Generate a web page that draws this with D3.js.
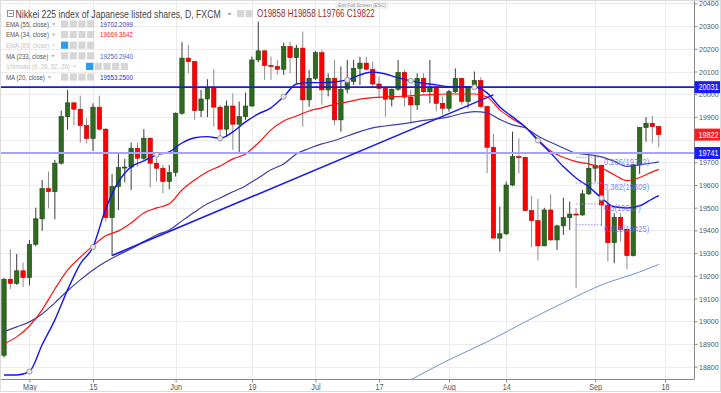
<!DOCTYPE html>
<html lang="en">
<head>
<meta charset="utf-8">
<title>Nikkei 225 index of Japanese listed shares, D, FXCM</title>
<script src="https://cdn.jsdelivr.net/npm/d3@7"></script>
<style>
  body { margin: 0; background: #fff; }
  svg { display: block; font-family: "Liberation Sans", Arial, sans-serif; }
</style>
</head>
<body>
<script>

// Size of the page and of the price pane
var w = 721;
var h = 393;
var plotW = 694;
var plotH = 379.5;

// Time axis: bar index of each labelled day (trading days from 25 Apr 2017)
var tickIdx = [4, 14, 27, 39, 49, 59, 70, 79, 93, 104];
var tickLabels = ["May", "15", "Jun", "19", "Jul", "17", "Aug", "14", "Sep", "18"];

// Price axis ticks (19800 sits under the close tag)
var priceTicks = [18800, 18900, 19000, 19100, 19200, 19300, 19400, 19500, 19600,
                  19700, 19800, 19900, 20000, 20100, 20200, 20300, 20400];
var hiddenTicks = [19800];

// Daily candles (one value per bar)
var openP = [18850, 19185, 19167, 19222, 19192, 19339, 19451, 19584, 19571, 19696,
             19901, 19962, 19934, 19862, 19805, 19943, 19846, 19456, 19593, 19677,
             19679, 19762, 19718, 19806, 19696, 19674, 19615, 19656, 19916, 20159,
             20144, 19928, 19979, 20028, 19943, 19846, 19948, 19868, 19901, 19948,
             20151, 20191, 20126, 20122, 20110, 20210, 20161, 20203, 19975, 20070,
             20183, 20019, 20070, 19887, 20022, 20056, 20114, 20137, 20110, 20045,
             20026, 19978, 20022, 20096, 19987, 19953, 20070, 20011, 20033, 19960,
             19938, 20011, 20070, 19968, 20033, 20060, 19946, 19766, 19366, 19385,
             19600, 19725, 19722, 19487, 19443, 19332, 19490, 19358, 19420, 19456,
             19472, 19468, 19561, 19674, 19687, 19512, 19346, 19458, 19405, 19289,
             19689, 19853, 19872, 19858];
var highP = [19190, 19318, 19296, 19258, 19358, 19500, 19622, 19659, 19711, 19928,
             20019, 19965, 19993, 19894, 19960, 19993, 19850, 19648, 19737, 19715,
             19787, 19787, 19846, 19810, 19718, 19689, 19689, 19920, 20229, 20217,
             20148, 20019, 20066, 20110, 19953, 19972, 20004, 19968, 20007, 20166,
             20320, 20195, 20166, 20151, 20227, 20232, 20217, 20276, 20107, 20190,
             20195, 20092, 20151, 20122, 20151, 20151, 20165, 20165, 20144, 20078,
             20030, 20025, 20151, 20107, 20019, 20092, 20092, 20151, 20036, 19990,
             20019, 20114, 20072, 20036, 20100, 20075, 19950, 19825, 19505, 19615,
             19835, 19806, 19725, 19553, 19538, 19500, 19559, 19425, 19544, 19527,
             19498, 19578, 19733, 19733, 19690, 19578, 19476, 19476, 19408, 19692,
             19856, 19899, 19904, 19858];
var lowP = [18840, 19142, 19160, 19150, 19157, 19330, 19398, 19497, 19449, 19690,
            19843, 19862, 19787, 19784, 19750, 19840, 19439, 19289, 19490, 19612,
            19578, 19681, 19711, 19590, 19615, 19564, 19581, 19637, 19910, 20092,
            19887, 19899, 19899, 19857, 19791, 19813, 19755, 19743, 19887, 19945,
            20140, 20063, 20063, 20085, 20085, 20092, 20048, 19857, 19945, 20063,
            19953, 19990, 19864, 19835, 20004, 20041, 20041, 20107, 20026, 19982,
            19901, 19946, 20015, 19946, 19872, 19931, 20004, 19960, 19924, 19909,
            19924, 20004, 19953, 19938, 20026, 19938, 19652, 19366, 19307, 19380,
            19595, 19650, 19487, 19326, 19267, 19330, 19355, 19314, 19380, 19402,
            19145, 19465, 19556, 19615, 19420, 19263, 19255, 19351, 19229, 19285,
            19649, 19791, 19784, 19766];
var closeP = [19185, 19167, 19222, 19192, 19339, 19451, 19584, 19571, 19696, 19901,
              19962, 19934, 19862, 19805, 19943, 19846, 19456, 19593, 19677, 19679,
              19762, 19718, 19806, 19696, 19674, 19615, 19656, 19916, 20159, 20144,
              19928, 19979, 20028, 19943, 19846, 19948, 19868, 19901, 19948, 20151,
              20191, 20126, 20122, 20110, 20210, 20161, 20203, 19975, 20070, 20183,
              20019, 20070, 19887, 20022, 20056, 20114, 20137, 20110, 20045, 20026,
              19978, 20022, 20096, 19987, 19953, 20070, 20011, 20033, 19960, 19938,
              20011, 20070, 19968, 20033, 20060, 19946, 19766, 19366, 19385, 19600,
              19725, 19722, 19487, 19443, 19332, 19490, 19358, 19420, 19456, 19472,
              19468, 19561, 19674, 19687, 19512, 19346, 19458, 19405, 19289, 19689,
              19853, 19872, 19857, 19822];

// Indicator lines, every second bar
var maIdx = [0, 2, 4, 6, 8, 10, 12, 14, 16, 18, 20, 22, 24, 26, 28, 30, 32, 34, 36, 38,
             40, 42, 44, 46, 48, 50, 52, 54, 56, 58, 60, 62, 64, 66, 68, 70, 72, 74, 76, 78,
             80, 82, 84, 86, 88, 90, 92, 94, 96, 98, 100, 102, 103];
var ma20 = [18763, 18763, 18778, 18896, 19006, 19138, 19253, 19327, 19495, 19614,
            19680, 19706, 19733, 19746, 19785, 19808, 19813, 19806, 19834, 19878,
            19913, 19940, 19989, 20045, 20051, 20051, 20054, 20063, 20085, 20098,
            20089, 20072, 20059, 20048, 20041, 20033, 20032, 20031, 20006, 19944,
            19900, 19856, 19796, 19741, 19681, 19631, 19592, 19543, 19504, 19499,
            19508, 19539, 19553];
var ema34 = [18900, 18931, 18979, 19050, 19142, 19225, 19282, 19332, 19376, 19398,
             19433, 19477, 19499, 19517, 19578, 19622, 19658, 19684, 19715, 19737,
             19785, 19843, 19882, 19904, 19926, 19940, 19955, 19966, 19978, 19985,
             19988, 19990, 19993, 19997, 19999, 20001, 20001, 20001, 19988, 19931,
             19891, 19856, 19801, 19750, 19722, 19703, 19693, 19675, 19645, 19619,
             19633, 19658, 19669];
var ema55 = [18954, 18975, 18997, 19032, 19081, 19134, 19182, 19226, 19262, 19292,
             19319, 19351, 19380, 19402, 19442, 19481, 19517, 19543, 19570, 19596,
             19631, 19667, 19693, 19737, 19761, 19781, 19796, 19816, 19835, 19852,
             19860, 19867, 19875, 19885, 19891, 19900, 19915, 19923, 19918, 19889,
             19865, 19852, 19816, 19788, 19763, 19740, 19734, 19724, 19704, 19682,
             19689, 19697, 19702];
var ma233Idx = [62, 64, 70, 76, 82, 88, 94, 100, 103];
var ma233 = [18712, 18742, 18830, 18909, 18997, 19081, 19160, 19217, 19250];

// Circle markers along MA 20
var markerIdx = [4, 14, 24, 34, 44, 54, 64, 74, 84, 94];

// Drawn objects: trend line, horizontal levels, fibonacci retracement
var trendIdx = [17, 77];
var trendVal = [19289, 19997];
var levelVals = [20031, 19741];
var fibNames = ["0.236", "0.382", "0.5", "0.618"];
var fibVals = [19722, 19609, 19517, 19425];
var fibIdx = [90, 94];

// Legend
var legendNames = ["EMA (55, close)", "EMA (34, close)", "EMA (89, close)", "MA (233, close)",
                   "Ichimoku (9, 26, 52, 26)", "MA (20, close)"];
var legendValues = ["19702.2099", "19669.3642", "", "19250.2940", "", "19553.2500"];
var legendColors = ["#3a3aa6", "#ff1a1a", "#c8c8c8", "#4b5fb0", "#c8c8c8", "#2626ee"];
var legendHidden = [false, false, true, false, true, false];

//Create scale functions
var xScale = d3.scaleLinear().domain([-0.63, 108.55]).range([0, plotW]);
var yScale = d3.scaleLinear().domain([18741, 20415]).range([380, 0]);

//squeeze text horizontally, the screenshot is narrower than normal type
function squeeze(sel, k) {
  sel.each(function() {
    var len = this.getComputedTextLength();
    d3.select(this).attr("textLength", len * k).attr("lengthAdjust", "spacingAndGlyphs");
  });
}

//text squeezed with a transform, placed at (x, y)
function narrowText(parent, x, y, k, str) {
  return parent.append("g").attr("transform", "translate(" + x + "," + y + ") scale(" + k + ",1)")
    .append("text").attr("x", 0).attr("y", 0).text(str);
}

//Create SVG element
var svg = d3.select("body").append("svg")
  .attr("width", w)
  .attr("height", h);

svg.append("rect").attr("width", w).attr("height", h).attr("fill", "#fff");

svg.append("clipPath").attr("id", "plotclip")
  .append("rect").attr("x", 0).attr("y", 0).attr("width", plotW).attr("height", plotH);

//Grid
var grid = svg.append("g");
grid.selectAll("line.hg").data(priceTicks).enter().append("line")
  .attr("x1", 0).attr("x2", plotW)
  .attr("y1", function(d) { return Math.round(yScale(d)) + 0.5; })
  .attr("y2", function(d) { return Math.round(yScale(d)) + 0.5; })
  .attr("stroke", "#ececec");
grid.selectAll("line.vg").data(tickIdx).enter().append("line")
  .attr("x1", function(d) { return Math.round(xScale(d)) + 0.5; })
  .attr("x2", function(d) { return Math.round(xScale(d)) + 0.5; })
  .attr("y1", 0).attr("y2", plotH)
  .attr("stroke", "#ececec");

var plot = svg.append("g").attr("clip-path", "url(#plotclip)");

//Candles
var bars = d3.range(openP.length);
var bw = 4.4;
function up(i) { return closeP[i] >= openP[i]; }

plot.selectAll("line.wick").data(bars).enter().append("line")
  .attr("x1", function(i) { return xScale(i); })
  .attr("x2", function(i) { return xScale(i); })
  .attr("y1", function(i) { return yScale(highP[i]); })
  .attr("y2", function(i) { return yScale(lowP[i]); })
  .attr("stroke", function(i) { return up(i) ? "#3a3a3a" : "#8c8c8c"; })
  .attr("stroke-width", 1);

plot.selectAll("rect.body").data(bars).enter().append("rect")
  .attr("x", function(i) { return xScale(i) - bw / 2; })
  .attr("y", function(i) { return yScale(Math.max(openP[i], closeP[i])); })
  .attr("width", bw)
  .attr("height", function(i) { return Math.max(1, Math.abs(yScale(openP[i]) - yScale(closeP[i]))); })
  .attr("fill", function(i) { return up(i) ? "#2f6b1e" : "#ff0000"; })
  .attr("stroke", function(i) { return up(i) ? "#1d4512" : "#b80000"; })
  .attr("stroke-width", 0.6);

//Indicator lines
var line = d3.line()
  .x(function(d) { return xScale(d[0]); })
  .y(function(d) { return yScale(d[1]); })
  .curve(d3.curveMonotoneX);

function pairs(idx, vals) { return idx.map(function(d, k) { return [d, vals[k]]; }); }

plot.append("path").datum(pairs(ma233Idx, ma233))
  .attr("d", line).attr("fill", "none").attr("stroke", "#6f8fd6").attr("stroke-width", 1);
plot.append("path").datum(pairs(maIdx, ema55))
  .attr("d", line).attr("fill", "none").attr("stroke", "#3f3f9f").attr("stroke-width", 1.2);
plot.append("path").datum(pairs(maIdx, ema34))
  .attr("d", line).attr("fill", "none").attr("stroke", "#ff1010").attr("stroke-width", 1.2);
plot.append("path").datum(pairs(maIdx, ma20))
  .attr("d", line).attr("fill", "none").attr("stroke", "#1414f0").attr("stroke-width", 1.4);

//Horizontal levels
plot.append("line")
  .attr("x1", 0).attr("x2", plotW)
  .attr("y1", yScale(levelVals[0])).attr("y2", yScale(levelVals[0]))
  .attr("stroke", "#1a1ad8").attr("stroke-width", 1.6);
plot.append("line")
  .attr("x1", 0).attr("x2", plotW)
  .attr("y1", yScale(levelVals[1])).attr("y2", yScale(levelVals[1]))
  .attr("stroke", "#a4a4ff").attr("stroke-width", 2);

//Trend line
plot.append("path").datum(pairs(trendIdx, trendVal))
  .attr("d", d3.line().x(function(d) { return xScale(d[0]); }).y(function(d) { return yScale(d[1]); }))
  .attr("stroke", "#1e1ee6").attr("stroke-width", 1.6).attr("fill", "none");

//Markers on MA 20
plot.selectAll("circle.mk").data(markerIdx).enter().append("circle")
  .attr("cx", function(d) { return xScale(d); })
  .attr("cy", function(d) { return yScale(ma20[maIdx.indexOf(d)]); })
  .attr("r", 2.6)
  .attr("fill", "#e6e6e6").attr("stroke", "#8a8a8a").attr("stroke-width", 0.8);

//Fibonacci levels
var fib = plot.append("g");
fib.selectAll("line").data(fibVals).enter().append("line")
  .attr("x1", xScale(fibIdx[0])).attr("x2", xScale(fibIdx[1]))
  .attr("y1", function(d) { return yScale(d); }).attr("y2", function(d) { return yScale(d); })
  .attr("stroke", "#8c8cff").attr("stroke-dasharray", "1.5,1.5").attr("stroke-width", 1);
fib.selectAll("text").data(fibVals).enter().append("text")
  .attr("x", xScale(fibIdx[1]) + 2.5)
  .attr("y", function(d) { return yScale(d) + 7.5; })
  .attr("font-size", "9.5px").attr("fill", "#6a6aff").attr("fill-opacity", 0.85)
  .text(function(d, k) { return fibNames[k] + "(" + d + ")"; })
  .call(squeeze, 0.8);

//Right price axis
var yAxis = d3.axisRight(yScale).tickValues(priceTicks).tickSize(3).tickSizeOuter(0).tickPadding(1.5)
  .tickFormat(function(d) { return hiddenTicks.indexOf(d) < 0 ? d : ""; });
var gy = svg.append("g").attr("transform", "translate(" + (plotW + 0.5) + ",0)").call(yAxis);
gy.select(".domain").attr("stroke", "#8a8a8a").attr("d", "M0,0V" + plotH);
gy.selectAll(".tick line").attr("stroke", "#8a8a8a");
gy.selectAll("text").attr("fill", "#555").attr("font-size", "8px")
  .attr("font-family", "Liberation Sans, Arial, sans-serif").call(squeeze, 0.88);

//Bottom time axis
var xAxis = d3.axisBottom(xScale).tickValues(tickIdx).tickSize(3).tickSizeOuter(0).tickPadding(1.5)
  .tickFormat(function(d, k) { return tickLabels[k]; });
var gx = svg.append("g").attr("transform", "translate(0," + plotH + ")").call(xAxis);
gx.select(".domain").attr("stroke", "#8a8a8a").attr("d", "M0,0H" + (plotW + 0.5));
gx.selectAll(".tick line").attr("stroke", "#8a8a8a");
gx.selectAll("text").attr("fill", "#555").attr("font-size", "8.5px")
  .attr("font-family", "Liberation Sans, Arial, sans-serif").call(squeeze, 0.85);

//Price labels on the axis
var tags = [[levelVals[0], "#1c1cf5"], [closeP[closeP.length - 1], "#ff1c1c"], [levelVals[1], "#1c1cf5"]];
var tag = svg.selectAll("g.tag").data(tags).enter().append("g")
  .attr("transform", function(d) { return "translate(" + plotW + "," + yScale(d[0]) + ")"; });
tag.append("rect").attr("x", 0.5).attr("y", -6).attr("width", w - plotW).attr("height", 12)
  .attr("fill", function(d) { return d[1]; });
tag.append("text").attr("x", 4.5).attr("y", 3.2).attr("fill", "#fff").attr("font-size", "8.5px")
  .text(function(d) { return d[0]; }).call(squeeze, 0.85);

//Title line
var title = svg.append("g");
title.append("rect").attr("x", 7.5).attr("y", 10.5).attr("width", 6).attr("height", 6)
  .attr("fill", "#fff").attr("stroke", "#777").attr("stroke-width", 0.8);
title.append("line").attr("x1", 9).attr("x2", 12.5).attr("y1", 13.5).attr("y2", 13.5)
  .attr("stroke", "#777").attr("stroke-width", 0.8);
narrowText(title, 15.5, 17.5, 0.79, "Nikkei 225 index of Japanese listed shares, D, FXCM")
  .attr("font-size", "11px").attr("fill", "#444");
title.append("path").attr("d", "M227.5,13 L231.5,13 L229.5,15.5 Z").attr("fill", "#999");
[237, 245.5].forEach(function(x) {
  title.append("rect").attr("x", x).attr("y", 10).attr("width", 7.2).attr("height", 7.2).attr("fill", "#d6d6d6");
});
var last = closeP.length - 1;
narrowText(title, 257, 17.3, 0.8, "O" + openP[last] + "  H" + highP[last] + "  L" + lowP[last] + "  C" + closeP[last])
  .attr("font-size", "10px").attr("fill", "#9a2a2a");

//Legend rows
var rowY = [24, 34.6, 45.2, 55.8, 66.4, 77];
var legend = svg.append("g");
legendNames.forEach(function(name, k) {
  var y = rowY[k];
  var col = legendHidden[k] ? "#c6c6c6" : "#555";
  var t = legend.append("text").attr("x", 6).attr("y", y + 2.8).attr("font-size", "7.8px").attr("fill", col)
    .text(name).call(squeeze, 0.78);
  var end = 6 + parseFloat(t.attr("textLength"));
  legend.append("path").attr("d", "M" + (end + 3) + "," + (y - 0.8) + " l3.4,0 l-1.7,2.2 Z")
    .attr("fill", legendHidden[k] ? "#d2d2d2" : "#aaa");
  var nIcons = k === 4 ? 5 : 4;
  var x0 = k === 4 ? 86 : 61;
  for (var j = 0; j < nIcons; j++) {
    legend.append("rect").attr("x", x0 + j * 8.7).attr("y", y - 3.6).attr("width", 7.2).attr("height", 7.2)
      .attr("fill", (legendHidden[k] && j === 0) ? "#2b9cf0" : "#d6d6d6");
  }
  if (legendValues[k]) {
    legend.append("text").attr("x", 100).attr("y", y + 2.8).attr("font-size", "7.8px")
      .attr("fill", legendColors[k]).text(legendValues[k]).call(squeeze, 0.8);
  }
});

//Exit full screen hint
var hint = svg.append("g");
hint.append("rect").attr("x", 335).attr("y", 1.5).attr("width", 54).attr("height", 7.5).attr("rx", 2)
  .attr("fill", "#f2f2f2");
hint.append("text").attr("x", 362).attr("y", 7.3).attr("text-anchor", "middle").attr("font-size", "6px")
  .attr("fill", "#999").text("Exit Full Screen (ESC)").call(squeeze, 0.8);

//Outer frame
svg.append("rect").attr("x", 0.5).attr("y", 0.5).attr("width", w - 1).attr("height", h - 2)
  .attr("fill", "none").attr("stroke", "#dcdcdc");

</script>
</body>
</html>
